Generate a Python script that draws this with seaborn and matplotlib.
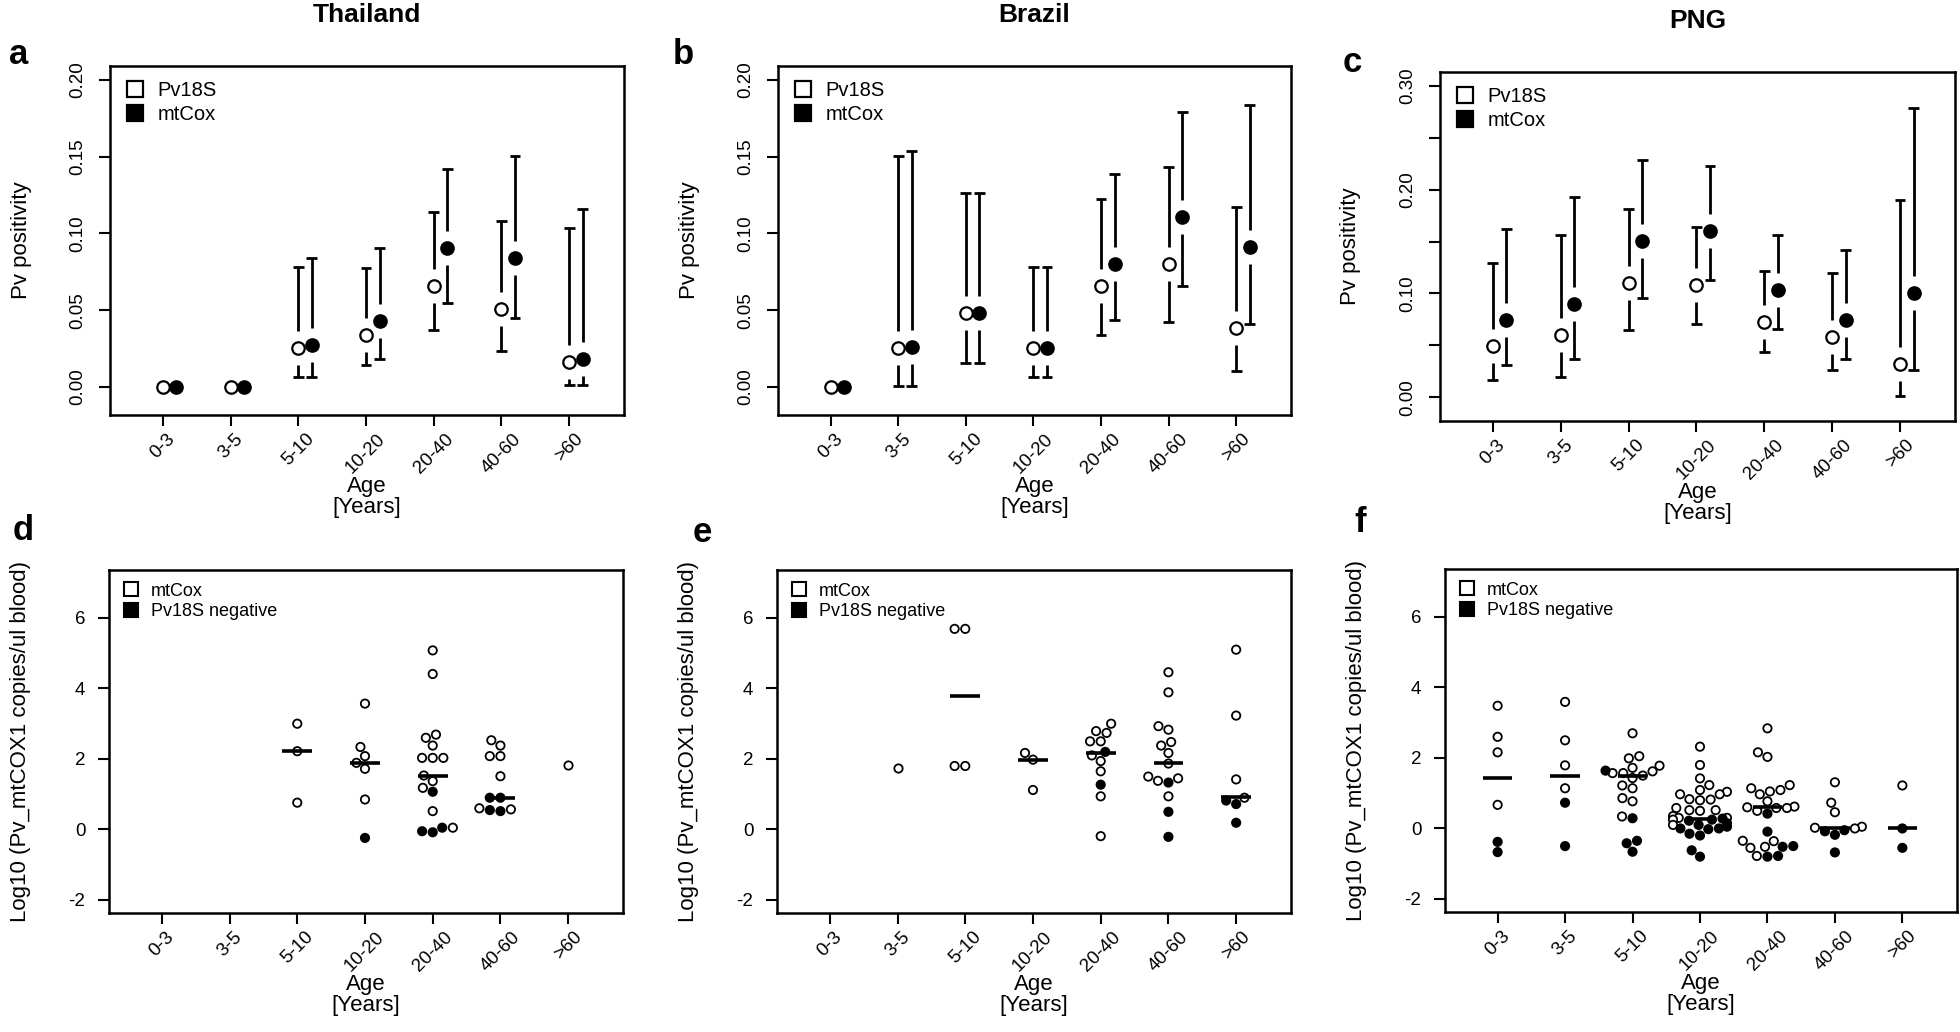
import numpy as np
import pandas as pd
import matplotlib
matplotlib.use("Agg")
import matplotlib.pyplot as plt
from matplotlib import font_manager
from matplotlib.lines import Line2D
import seaborn as sns

# ---------------- data ----------------
ages = ["0-3", "3-5", "5-10", "10-20", "20-40", "40-60", ">60"]

# top row: positivity (point, lower CI, upper CI)
tha_pv18s    = [0.0, 0.0, 0.0254, 0.0341, 0.0659, 0.0511, 0.0163]
tha_pv18s_lo = [0.0, 0.0, 0.0065, 0.0146, 0.0374, 0.0233, 0.0011]
tha_pv18s_hi = [0.0, 0.0, 0.0783, 0.0772, 0.1137, 0.1080, 0.1033]
tha_mtcox    = [0.0, 0.0, 0.0272, 0.0428, 0.0902, 0.0843, 0.0185]
tha_mtcox_lo = [0.0, 0.0, 0.0065, 0.0185, 0.0548, 0.0452, 0.0011]
tha_mtcox_hi = [0.0, 0.0, 0.0837, 0.0902, 0.1417, 0.1507, 0.1157]

bra_pv18s    = [0.0, 0.0254, 0.0485, 0.0254, 0.0659, 0.0804, 0.0385]
bra_pv18s_lo = [0.0, 0.0010, 0.0157, 0.0065, 0.0341, 0.0424, 0.0102]
bra_pv18s_hi = [0.0, 0.1507, 0.1265, 0.0783, 0.1222, 0.1435, 0.1174]
bra_mtcox    = [0.0, 0.0261, 0.0485, 0.0254, 0.0804, 0.1109, 0.0909]
bra_mtcox_lo = [0.0, 0.0010, 0.0157, 0.0065, 0.0439, 0.0659, 0.0409]
bra_mtcox_hi = [0.0, 0.1539, 0.1265, 0.0783, 0.1387, 0.1789, 0.1837]

png_pv18s    = [0.0492, 0.0595, 0.1100, 0.1078, 0.0724, 0.0579, 0.0322]
png_pv18s_lo = [0.0161, 0.0193, 0.0644, 0.0702, 0.0435, 0.0257, 0.0010]
png_pv18s_hi = [0.1297, 0.1561, 0.1818, 0.1641, 0.1217, 0.1200, 0.1899]
png_mtcox    = [0.0740, 0.0901, 0.1506, 0.1603, 0.1030, 0.0740, 0.1004]
png_mtcox_lo = [0.0306, 0.0370, 0.0956, 0.1133, 0.0660, 0.0370, 0.0257]
png_mtcox_hi = [0.1625, 0.1931, 0.2285, 0.2230, 0.1561, 0.1416, 0.2784]

# bottom row: log10 copies per age group (open = mtCox, filled = Pv18S negative)
tha_open = [[], [], [3.0, 2.22, 0.76],
            [3.57, 2.34, 2.08, 1.89, 1.72, 0.85],
            [5.08, 4.41, 2.69, 2.6, 2.38, 2.03, 2.03, 2.03, 1.53, 1.37, 1.18, 0.52, 0.05],
            [2.53, 2.38, 2.08, 2.08, 1.51, 0.6, 0.57],
            [1.82]]
tha_neg = [[], [], [], [-0.24], [1.07, 0.05, -0.08, -0.05], [0.9, 0.9, 0.52, 0.55], []]
tha_median = [np.nan, np.nan, 2.22, 1.89, 1.53, 0.9, np.nan]

bra_open = [[], [1.75], [5.69, 5.69, 1.8, 1.8], [2.17, 1.98, 1.12],
            [3.0, 2.79, 2.74, 2.5, 2.5, 2.1, 1.94, 1.65, 0.94, -0.19],
            [4.46, 3.89, 2.93, 2.83, 2.48, 2.38, 2.17, 1.87, 1.5, 1.45, 1.38, 0.94],
            [5.1, 3.23, 1.42, 0.9]]
bra_neg = [[], [], [], [], [2.2, 1.27], [1.33, 0.5, -0.21], [0.82, 0.72, 0.19]]
bra_median = [np.nan, np.nan, 3.78, 1.98, 2.16, 1.88, 0.92]

png_open = [[3.48, 2.6, 2.16, 0.67],
            [3.59, 2.5, 1.79, 1.14],
            [2.7, 2.05, 1.99, 1.78, 1.72, 1.62, 1.57, 1.57, 1.5, 1.43, 1.22, 1.14, 0.86, 0.77, 0.34],
            [2.32, 1.8, 1.42, 1.23, 1.09, 1.04, 0.97, 0.97, 0.83, 0.8, 0.82, 0.58, 0.52, 0.5,
             0.52, 0.35, 0.3, 0.3, 0.25, 0.1],
            [2.84, 2.16, 2.03, 1.23, 1.14, 1.09, 1.05, 0.97, 0.77, 0.62, 0.6, 0.58, 0.58, 0.5,
             -0.35, -0.36, -0.52, -0.55, -0.78],
            [1.31, 0.73, 0.46, 0.05, 0.02, 0.0],
            [1.22]]
png_neg = [[-0.38, -0.67],
           [0.73, -0.5],
           [1.64, 0.29, -0.35, -0.42, -0.66],
           [0.28, 0.25, 0.22, 0.15, 0.1, 0.05, 0.0, 0.0, -0.02, -0.15, -0.2, -0.62, -0.8],
           [0.42, -0.09, -0.5, -0.52, -0.8, -0.78],
           [-0.05, -0.08, -0.18, -0.68],
           [0.0, -0.55]]
png_median = [1.43, 1.48, 1.5, 0.27, 0.62, 0.0, 0.0]

countries = ["Thailand", "Brazil", "PNG"]
panel_letters = ["a", "b", "c", "d", "e", "f"]

# ---------------- style ----------------
sns.set_theme(style="white")
installed = {f.name for f in font_manager.fontManager.ttflist}
fams = [f for f in ["Liberation Sans Narrow", "Liberation Sans", "DejaVu Sans"] if f in installed]
plt.rcParams["font.family"] = fams
plt.rcParams["axes.edgecolor"] = "black"
plt.rcParams["axes.linewidth"] = 1.8
plt.rcParams["text.color"] = "black"
plt.rcParams["axes.labelcolor"] = "black"
plt.rcParams["xtick.color"] = "black"
plt.rcParams["ytick.color"] = "black"

W, H = 1960, 1032
fig = plt.figure(figsize=(W / 100, H / 100), dpi=100)
fig.patch.set_facecolor("white")

# axes boxes in pixels (left, right, top, bottom)
boxes = [(110, 624, 66, 415), (778, 1291, 66, 415), (1440, 1955, 72, 421),
         (109, 623, 570, 913), (777, 1291, 570, 913), (1445, 1957, 569, 912)]
letter_pos = [(19, 55), (683, 55), (1352, 63), (23, 530), (702, 532), (1360, 523)]


def make_ax(b):
    l, r, t, btm = b
    return fig.add_axes([l / W, 1 - btm / H, (r - l) / W, (btm - t) / H])


def style_ax(ax, b):
    for s in ax.spines.values():
        s.set_visible(True)
        s.set_color("black")
        s.set_linewidth(1.8)
    ax.tick_params(axis="both", which="both", direction="out", length=8, width=1.5,
                   left=True, bottom=True, right=False, top=False, labelsize=13.5)
    ax.tick_params(axis="y", pad=9)
    ax.tick_params(axis="x", pad=3)
    ax.set_xlim(-0.78, 6.81)
    ax.set_xticks(np.arange(len(ages)))
    ax.set_xticklabels(ages, rotation=45, ha="center", va="top")
    ax.set_xlabel("Age\n[Years]", fontsize=16, linespacing=1.05, va="center")
    btm_h = b[3] - b[2]
    ax.xaxis.set_label_coords(0.5, -(82 / btm_h))
    ax.grid(False)


GAP_PX = 17
CAP = 0.08

top_sets = [
    (tha_pv18s, tha_pv18s_lo, tha_pv18s_hi, tha_mtcox, tha_mtcox_lo, tha_mtcox_hi),
    (bra_pv18s, bra_pv18s_lo, bra_pv18s_hi, bra_mtcox, bra_mtcox_lo, bra_mtcox_hi),
    (png_pv18s, png_pv18s_lo, png_pv18s_hi, png_mtcox, png_mtcox_lo, png_mtcox_hi),
]
top_ylims = [(-0.0182, 0.209), (-0.0182, 0.209), (-0.023, 0.3135)]

for k in range(3):
    b = boxes[k]
    ax = make_ax(b)
    ov, olo, ohi, fv, flo, fhi = top_sets[k]
    ylim = top_ylims[k]
    x = np.arange(len(ages))
    gap = GAP_PX * (ylim[1] - ylim[0]) / (b[3] - b[2])
    for xs, v, lo, hi in [(x, ov, olo, ohi), (x + 0.2, fv, flo, fhi)]:
        for xi, vi, l, h in zip(xs, v, lo, hi):
            if h - l <= 0:
                continue
            if vi - gap > l:
                ax.vlines(xi, l, vi - gap, color="black", lw=2.0, zorder=2)
            if vi + gap < h:
                ax.vlines(xi, vi + gap, h, color="black", lw=2.0, zorder=2)
            ax.hlines([l, h], xi - CAP, xi + CAP, color="black", lw=2.0, zorder=2)
    df_o = pd.DataFrame({"x": x, "y": ov})
    df_f = pd.DataFrame({"x": x + 0.2, "y": fv})
    sns.scatterplot(data=df_o, x="x", y="y", ax=ax, marker="o", s=80, color="white",
                    edgecolor="black", linewidth=1.6, zorder=3, legend=False)
    sns.scatterplot(data=df_f, x="x", y="y", ax=ax, marker="o", s=80, color="black",
                    edgecolor="black", linewidth=1.6, zorder=3, legend=False)
    style_ax(ax, b)
    ax.set_ylim(*ylim)
    if k < 2:
        yt = [0.0, 0.05, 0.10, 0.15, 0.20]
        yl = ["0.00", "0.05", "0.10", "0.15", "0.20"]
    else:
        yt = [0.0, 0.05, 0.10, 0.15, 0.20, 0.25, 0.30]
        yl = ["0.00", "", "0.10", "", "0.20", "", "0.30"]
    ax.set_yticks(yt)
    ax.set_yticklabels(yl, rotation=90, va="center")
    ax.set_ylabel("Pv positivity", fontsize=16, va="center")
    ax.yaxis.set_label_coords(-0.173, 0.5)
    handles = [Line2D([], [], marker="s", ls="", mfc="white", mec="black", ms=11, mew=1.6),
               Line2D([], [], marker="s", ls="", mfc="black", mec="black", ms=11, mew=1.6)]
    ax.legend(handles, ["Pv18S", "mtCox"], loc="upper left", frameon=False, fontsize=14.5,
              handlelength=1.0, handletextpad=0.6, labelspacing=0.25,
              borderaxespad=0.35, borderpad=0.4)
    ax.text(0.5, 1.0 + 51 / (b[3] - b[2]), countries[k], transform=ax.transAxes,
            ha="center", va="center", fontsize=19, fontweight="bold")

bottom_sets = [(tha_open, tha_neg, tha_median), (bra_open, bra_neg, bra_median),
               (png_open, png_neg, png_median)]

for k in range(3):
    b = boxes[k + 3]
    ax = make_ax(b)
    op, ng, med = bottom_sets[k]
    rows = []
    for a, vals in zip(ages, op):
        for v in vals:
            rows.append((a, v, "mtCox"))
    for a, vals in zip(ages, ng):
        for v in vals:
            rows.append((a, v, "Pv18S negative"))
    df = pd.DataFrame(rows, columns=["age", "val", "type"])
    sns.swarmplot(data=df, x="age", y="val", hue="type", order=ages,
                  hue_order=["mtCox", "Pv18S negative"],
                  palette={"mtCox": "white", "Pv18S negative": "black"},
                  edgecolor="black", linewidth=1.3, size=6.0, dodge=False,
                  legend=False, ax=ax, zorder=3)
    xm = np.arange(len(ages))
    med = np.asarray(med, dtype=float)
    ok = ~np.isnan(med)
    ax.hlines(med[ok], xm[ok] - 0.22, xm[ok] + 0.22, color="black", lw=2.6, zorder=4)
    style_ax(ax, b)
    ax.set_ylim(-2.37, 7.36)
    ax.set_yticks([-2, 0, 2, 4, 6])
    ax.set_yticklabels(["-2", "0", "2", "4", "6"])
    ax.set_ylabel("Log10 (Pv_mtCOX1 copies/ul blood)", fontsize=16, va="center")
    ax.yaxis.set_label_coords(-0.172, 0.5)
    handles = [Line2D([], [], marker="s", ls="", mfc="white", mec="black", ms=10, mew=1.5),
               Line2D([], [], marker="s", ls="", mfc="black", mec="black", ms=10, mew=1.5)]
    ax.legend(handles, ["mtCox", "Pv18S negative"], loc="upper left", frameon=False,
              fontsize=13, handlelength=1.0, handletextpad=0.6, labelspacing=0.2,
              borderaxespad=0.3, borderpad=0.4)

for (px, py), letter in zip(letter_pos, panel_letters):
    fig.text(px / W, 1 - py / H, letter, ha="center", va="center",
             fontsize=25, fontweight="bold")

fig.savefig("out.png", dpi=100, facecolor="white")
